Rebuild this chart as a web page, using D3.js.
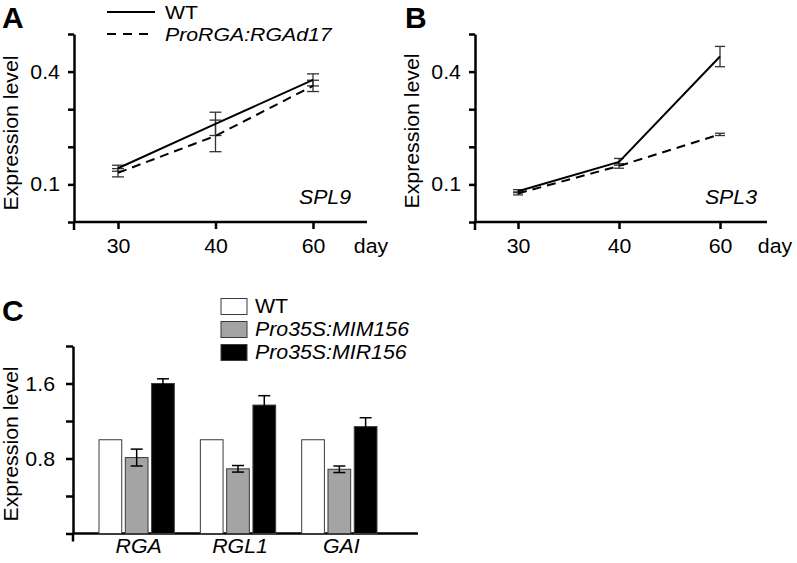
<!DOCTYPE html>
<html><head><meta charset="utf-8">
<script src="https://cdn.jsdelivr.net/npm/d3@7"></script>
<style>
body{margin:0;background:#fff}
svg text{font-family:"Liberation Sans",Arial,Helvetica,sans-serif;font-size:20.5px;fill:#000}
.sx{transform-box:fill-box;transform-origin:center;transform:scaleX(1.04)}
.sxl{transform-box:fill-box;transform-origin:left center;transform:scaleX(1.04)}
.sxr{transform-box:fill-box;transform-origin:right center;transform:scaleX(1.04)}
.lg{font-size:19px !important;transform-box:fill-box;transform-origin:left center;transform:scaleX(1.12)}
.it{font-style:italic}
.ttl{font-weight:bold;font-size:30px !important}
</style></head><body>
<svg id="c" width="797" height="563"></svg>
<script>
// ---------- data ----------
const days = ["30", "40", "60"];
const lineLegend = ["WT", "ProRGA:RGAd17"];
const lineTicks = [0, 0.1, 0.2, 0.3, 0.4, 0.5];
const lineTickLabels = [0.1, 0.4];
const spl9WT = [0.143, 0.261, 0.378];
const spl9WTErr = [0.008, 0.031, 0.016];
const spl9Mut = [0.131, 0.229, 0.362];
const spl9MutErr = [0.011, 0.042, 0.015];
const spl3WT = [0.082, 0.160, 0.440];
const spl3WTErr = [0.004, 0.009, 0.027];
const spl3Mut = [0.076, 0.149, 0.233];
const spl3MutErr = [0.004, 0.006, 0.003];

const genes = ["RGA", "RGL1", "GAI"];
const barLegend = ["WT", "Pro35S:MIM156", "Pro35S:MIR156"];
const barColors = ["#ffffff", "#a4a4a4", "#000000"];
const barWT = [1.0, 1.0, 1.0];
const barMIM = [0.81, 0.69, 0.685];
const barMIMErr = [0.09, 0.035, 0.035];
const barMIR = [1.60, 1.37, 1.14];
const barMIRErr = [0.05, 0.10, 0.095];
const barTicks = [0, 0.4, 0.8, 1.2, 1.6, 2.0];
const barTickLabels = [0.8, 1.6];

// ---------- drawing ----------
const svg = d3.select("#c");

function styleAxis(a) {
  a.attr("font-size", null).attr("font-family", null);
  a.select(".domain").attr("stroke", "#000").attr("stroke-width", 2.5);
  a.selectAll(".tick line").attr("stroke", "#000").attr("stroke-width", 2.5);
}

function panelLetter(s, x, y) {
  svg.append("text").attr("class", "ttl").attr("x", x).attr("y", y).text(s);
}

function yTitle(x, y) {
  svg.append("g").attr("transform", `translate(${x},${y}) rotate(-90)`)
    .append("text").attr("class", "sx").attr("text-anchor", "middle").text("Expression level");
}

function linePanel(cfg) {
  const g = svg.append("g");
  const x = d3.scalePoint().domain(days).range(cfg.xRange);
  const y = d3.scaleLinear().domain([0, 0.5]).range([222, 34]);

  const ya = g.append("g").attr("transform", `translate(${cfg.axisX},0)`)
    .call(d3.axisLeft(y).tickValues(lineTicks).tickSize(6).tickSizeOuter(0).tickPadding(8)
      .tickFormat(d => lineTickLabels.includes(d) ? d3.format(".1f")(d) : ""));
  styleAxis(ya);
  ya.selectAll(".tick text").attr("class", "sxr");

  const xa = g.append("g").attr("transform", `translate(0,${y(0)})`)
    .call(d3.axisBottom(x).tickSize(7).tickSizeOuter(0));
  styleAxis(xa);
  xa.select(".domain").attr("d", `M${cfg.axisX},0H${cfg.axisEnd}`);
  xa.append("line").attr("x1", cfg.axisX).attr("x2", cfg.axisX).attr("y1", 0).attr("y2", 8)
    .attr("stroke", "#000").attr("stroke-width", 2.5);
  xa.selectAll(".tick text").attr("class", "sx").attr("y", 31).attr("dy", null);
  xa.append("text").attr("class", "sx").attr("x", cfg.dayX).attr("y", 31)
    .attr("text-anchor", "middle").text("day");

  const series = [
    { v: cfg.wt, e: cfg.wtErr, dash: null },
    { v: cfg.mut, e: cfg.mutErr, dash: "9,6" }
  ];
  series.forEach(s => {
    const eb = g.append("g").attr("stroke", "#333").attr("stroke-width", 1.3);
    s.v.forEach((v, i) => {
      const cx = x(days[i]);
      eb.append("line").attr("x1", cx).attr("x2", cx).attr("y1", y(v - s.e[i])).attr("y2", y(v + s.e[i]));
      eb.append("line").attr("x1", cx - cfg.cap).attr("x2", cx + cfg.cap).attr("y1", y(v - s.e[i])).attr("y2", y(v - s.e[i]));
      eb.append("line").attr("x1", cx - cfg.cap).attr("x2", cx + cfg.cap).attr("y1", y(v + s.e[i])).attr("y2", y(v + s.e[i]));
    });
  });
  const line = d3.line().x((d, i) => x(days[i])).y(d => y(d));
  series.forEach(s => {
    g.append("path").attr("d", line(s.v)).attr("fill", "none").attr("stroke", "#000")
      .attr("stroke-width", 2).attr("stroke-dasharray", s.dash);
  });

  g.append("text").attr("class", "sx it").attr("x", cfg.geneX).attr("y", 204)
    .attr("text-anchor", "middle").text(cfg.gene);
}

// Panel A
panelLetter("A", 2, 28);
yTitle(18, 133);
linePanel({ xRange: [118, 313], axisX: 74, axisEnd: 367, dayX: 371, cap: 6,
  wt: spl9WT, wtErr: spl9WTErr, mut: spl9Mut, mutErr: spl9MutErr, gene: "SPL9", geneX: 325 });

// legend A
const legA = svg.append("g");
lineLegend.forEach((name, i) => {
  const ly = 12 + i * 22;
  legA.append("line").attr("x1", 107).attr("x2", 155).attr("y1", ly).attr("y2", ly)
    .attr("stroke", "#000").attr("stroke-width", 2)
    .attr("stroke-dasharray", i === 0 ? null : "9,7");
  legA.append("text").attr("class", i === 0 ? "lg" : "lg it").attr("x", 165).attr("y", ly + 7).text(name);
});

// Panel B
panelLetter("B", 405, 28);
yTitle(419, 131);
linePanel({ xRange: [518, 720], axisX: 475, axisEnd: 767, dayX: 775, cap: 5,
  wt: spl3WT, wtErr: spl3WTErr, mut: spl3Mut, mutErr: spl3MutErr, gene: "SPL3", geneX: 731 });

// Panel C
panelLetter("C", 2, 321);
yTitle(18, 444);
(function () {
  const g = svg.append("g");
  const axisX = 73, axisEnd = 418;
  const y = d3.scaleLinear().domain([0, 2]).range([533.5, 346]);
  const x0 = d3.scaleBand().domain(genes).range([86, 390]).paddingInner(0.257).paddingOuter(0.1285);
  const x1 = d3.scaleBand().domain(barLegend).range([0, x0.bandwidth()]).paddingInner(0.136);

  const ya = g.append("g").attr("transform", `translate(${axisX},0)`)
    .call(d3.axisLeft(y).tickValues(barTicks).tickSize(7).tickSizeOuter(0).tickPadding(11)
      .tickFormat(d => barTickLabels.includes(d) ? d3.format(".1f")(d) : ""));
  styleAxis(ya);
  ya.selectAll(".tick text").attr("class", "sxr");

  const xa = g.append("g").attr("transform", `translate(0,${y(0)})`)
    .call(d3.axisBottom(x0).tickSize(0).tickSizeOuter(0));
  styleAxis(xa);
  xa.select(".domain").attr("d", `M${axisX},0H${axisEnd}`);
  xa.append("line").attr("x1", axisX).attr("x2", axisX).attr("y1", 0).attr("y2", 8)
    .attr("stroke", "#000").attr("stroke-width", 2.5);
  xa.selectAll(".tick text").attr("class", "sx it").attr("x", 2).attr("y", 20).attr("dy", null);

  const vals = [barWT, barMIM, barMIR];
  const errs = [null, barMIMErr, barMIRErr];
  genes.forEach((gene, gi) => {
    barLegend.forEach((s, si) => {
      const bx = x0(gene) + x1(s);
      const v = vals[si][gi];
      g.append("rect").attr("x", bx).attr("y", y(v)).attr("width", x1.bandwidth())
        .attr("height", y(0) - y(v)).attr("fill", barColors[si])
        .attr("stroke", "#3a3a3a").attr("stroke-width", 1);
    });
  });
  genes.forEach((gene, gi) => {
    barLegend.forEach((s, si) => {
      if (!errs[si]) return;
      const cx = x0(gene) + x1(s) + x1.bandwidth() / 2;
      const v = vals[si][gi], e = errs[si][gi];
      const eb = g.append("g").attr("stroke", "#000").attr("stroke-width", 1.5);
      eb.append("line").attr("x1", cx).attr("x2", cx).attr("y1", y(v - e)).attr("y2", y(v + e));
      eb.append("line").attr("x1", cx - 6).attr("x2", cx + 6).attr("y1", y(v - e)).attr("y2", y(v - e));
      eb.append("line").attr("x1", cx - 6).attr("x2", cx + 6).attr("y1", y(v + e)).attr("y2", y(v + e));
    });
  });

  const leg = svg.append("g");
  barLegend.forEach((name, i) => {
    const ly = 298.5 + i * 23;
    leg.append("rect").attr("x", 221).attr("y", ly).attr("width", 26).attr("height", 16)
      .attr("fill", barColors[i]).attr("stroke", "#3a3a3a").attr("stroke-width", 1);
    leg.append("text").attr("class", i === 0 ? "sxl" : "sxl it").attr("x", 255).attr("y", ly + 15).text(name);
  });
})();
</script>
</body></html>
